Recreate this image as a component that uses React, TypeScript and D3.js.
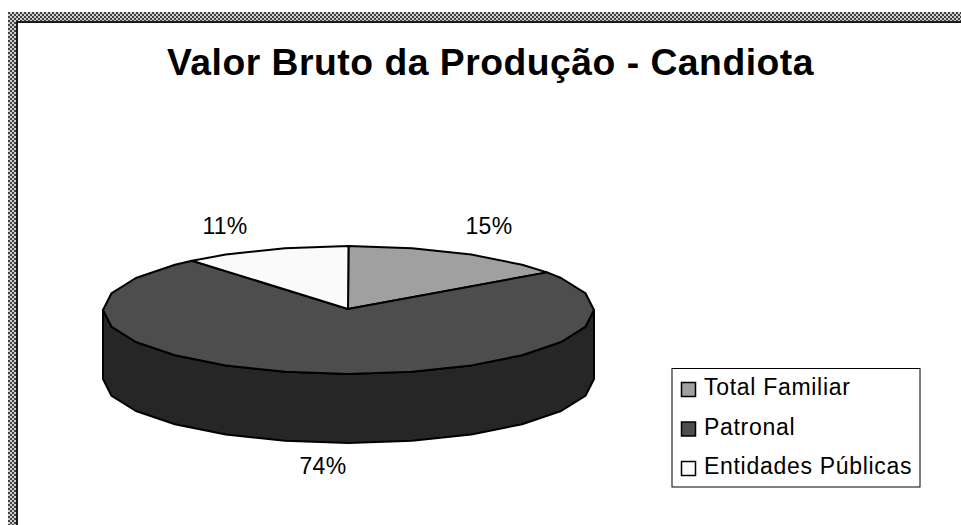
import React from "react";
import * as d3 from "d3";

const categories = ["Total Familiar", "Patronal", "Entidades Públicas"];
const shares = [15, 74, 11];
const percentLabels = ["15%", "74%", "11%"];
const topColors = ["#a0a0a0", "#4d4d4d", "#fafafa"];
const sideColor = "#262626";
const titleText = "Valor Bruto da Produção - Candiota";

const W = 961, H = 525;
const cx = 348.5, cy = 310, rx = 245.5, ry = 64, depth = 69;
const STEP = (15 * Math.PI) / 180;

const pieGen = d3.pie<number>().sort(null).value((d) => d).startAngle(0).endAngle(2 * Math.PI);
const arcs = pieGen(shares);

const px = (t: number, dy = 0): [number, number] => [cx + rx * Math.sin(t), cy - ry * Math.cos(t) + dy];

// coarse polygon sampling of the rim, as in the original
function rim(a0: number, a1: number, dy = 0): [number, number][] {
  const pts: [number, number][] = [px(a0, dy)];
  let k = Math.ceil(a0 / STEP + 1e-6);
  while (k * STEP < a1 - 1e-6) {
    pts.push(px(k * STEP, dy));
    k++;
  }
  pts.push(px(a1, dy));
  return pts;
}
const line = d3.line<[number, number]>();

const sidePath = (() => {
  const top = rim(Math.PI / 2, (3 * Math.PI) / 2);
  const bottom = rim(Math.PI / 2, (3 * Math.PI) / 2, depth).reverse();
  return line([...top, ...bottom]) + "Z";
})();

export default function App() {
  return (
    <svg
      width={W}
      height={H}
      viewBox={`0 0 ${W} ${H}`}
      style={{ position: "fixed", left: 0, top: 0, background: "#fff", display: "block" }}
      fontFamily="'Liberation Sans', Arial, sans-serif"
    >
      <defs>
        <pattern id="chk" width="4" height="4" patternUnits="userSpaceOnUse">
          <rect width="4" height="4" fill="#d0d0d0" />
          <rect x="0" y="0" width="2" height="2" fill="#404040" />
          <rect x="2" y="2" width="2" height="2" fill="#404040" />
        </pattern>
      </defs>
      <rect x={8} y={12} width={W - 8} height={9} fill="url(#chk)" />
      <rect x={8} y={12} width={8} height={H - 12} fill="url(#chk)" />
      <rect x={16} y={21} width={W - 16} height={2} fill="#1a1a1a" />
      <rect x={16} y={21} width={2} height={H - 21} fill="#1a1a1a" />

      <text x={490.5} y={75} textAnchor="middle" fontWeight="bold" fontSize={37.3} letterSpacing={0.5} fill="#000">
        {titleText}
      </text>

      <path d={sidePath} fill={sideColor} stroke="#000" strokeWidth={2} strokeLinejoin="round" />
      {arcs.map((a, i) => (
        <path
          key={categories[i]}
          d={line([[cx - 0.5, cy - 1], ...rim(a.startAngle, a.endAngle)]) + "Z"}
          fill={topColors[i]}
          stroke="#000"
          strokeWidth={2}
          strokeLinejoin="round"
        />
      ))}

      <text x={489} y={234} textAnchor="middle" fontSize={23} letterSpacing={0.3}>{percentLabels[0]}</text>
      <text x={323} y={474} textAnchor="middle" fontSize={23} letterSpacing={0.3}>{percentLabels[1]}</text>
      <text x={225} y={234} textAnchor="middle" fontSize={23} letterSpacing={0.3}>{percentLabels[2]}</text>

      <rect x={672} y={368.5} width={248} height={118.5} fill="#fff" stroke="#000" strokeWidth={1} />
      {categories.map((c, i) => {
        const y = [389, 428.5, 468][i];
        return (
          <g key={c}>
            <rect x={681.5} y={y - 6.5} width={14} height={14} fill={topColors[i]} stroke="#000" strokeWidth={1.5} />
            <text x={704} y={[395, 435, 474][i]} fontSize={23} letterSpacing={0.7} fill="#000">{c}</text>
          </g>
        );
      })}
    </svg>
  );
}
